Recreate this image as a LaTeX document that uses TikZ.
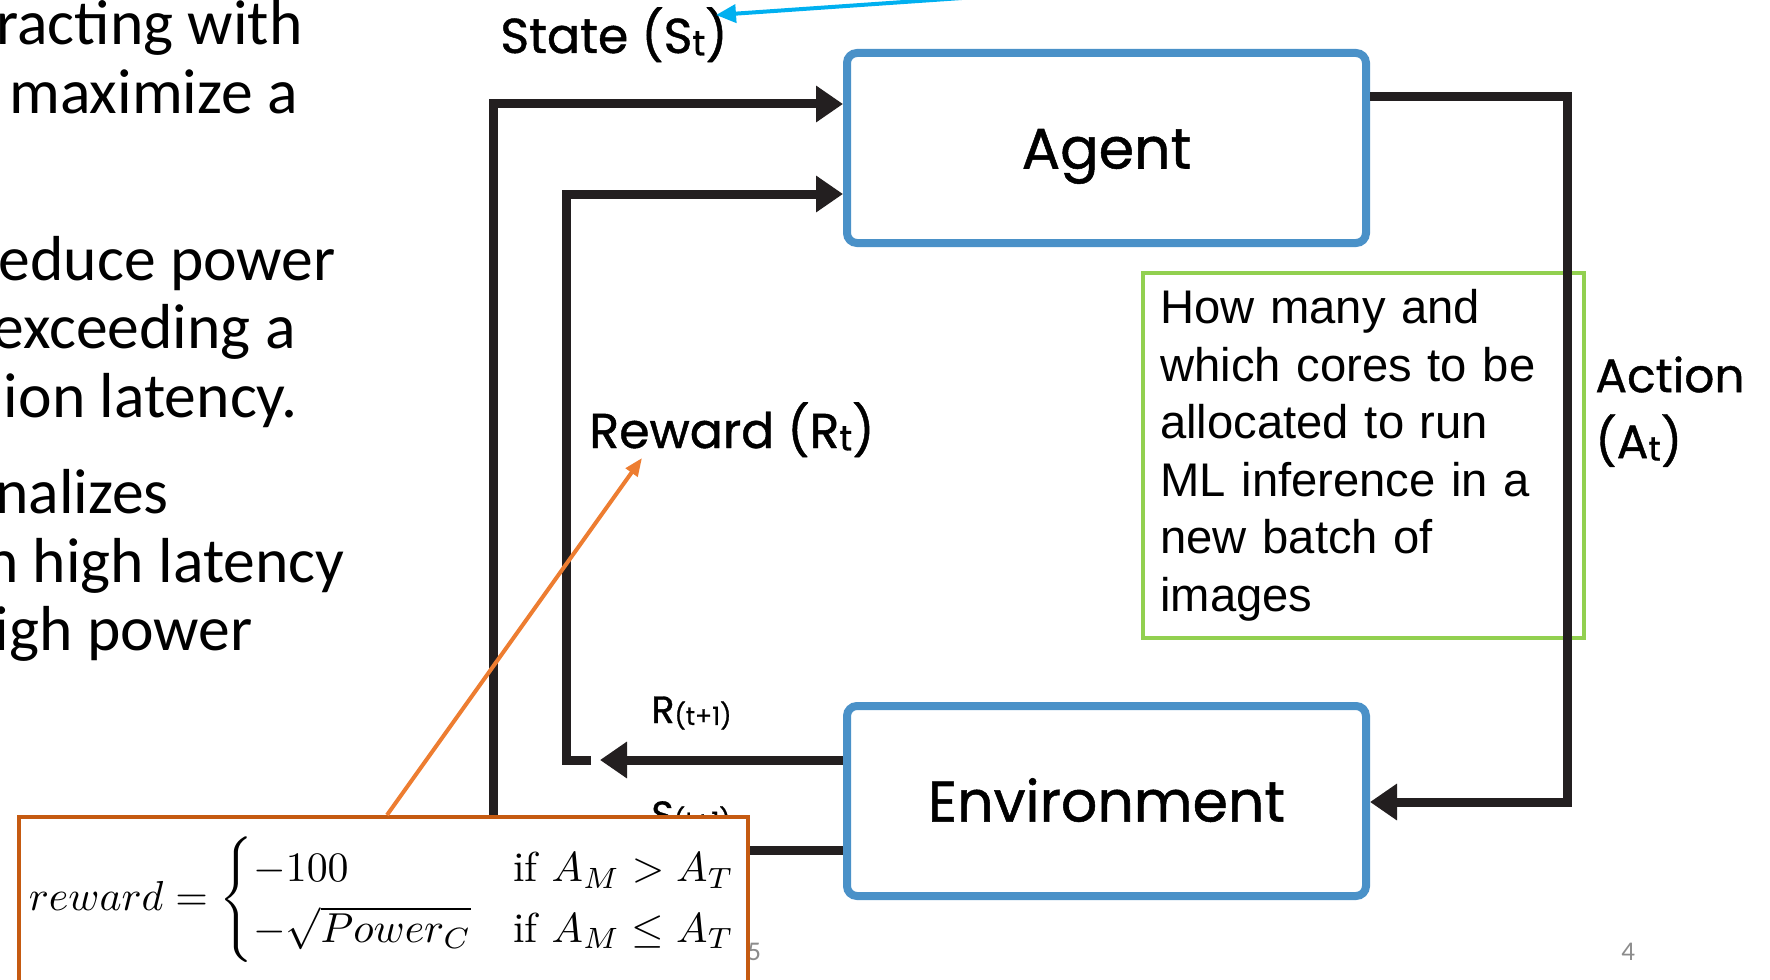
\documentclass[tikz,border=0pt]{standalone}
\usepackage{amsmath}
\usepackage{graphicx}
\usepackage[no-math]{fontspec}
\newfontfamily\bodyfont{Carlito}
\newfontfamily\flowfont[FakeBold=0.9]{Poppins}
\newfontfamily\notefont{Liberation Sans}
\usetikzlibrary{arrows.meta}

\definecolor{linedark}{RGB}{35,31,32}
\definecolor{boxblue}{RGB}{74,145,200}
\definecolor{notegreen}{RGB}{146,208,80}
\definecolor{callorange}{RGB}{237,125,49}
\definecolor{frameorange}{RGB}{197,90,17}
\definecolor{pointerblue}{RGB}{0,176,240}
\definecolor{pagegrey}{RGB}{140,140,140}

% small lowered index used in the loop labels
\newcommand{\lowidx}[2][0.72]{\raisebox{-0.05em}{\scalebox{#1}{#2}}}

\begin{document}
\begin{tikzpicture}[x=0.5pt,y=-0.5pt,
  flowbox/.style={draw=boxblue, line width=4pt, rounded corners=5pt, fill=white,
    minimum width=259.5pt, minimum height=95pt, inner sep=0pt,
    font=\flowfont\fontsize{28.5}{34}\selectfont, text height=20.5pt, text depth=0pt},
  flowline/.style={draw=linedark, line width=4.5pt},
  headtip/.style={-{Triangle[length=13.5pt,width=17.5pt]}},
  flowlabel/.style={inner sep=0pt, text=black},
  bodytext/.style={inner sep=0pt, anchor=base east, font=\bodyfont\fontsize{31.8}{34}\selectfont},
  notebox/.style={draw=notegreen, line width=2pt, inner xsep=8.75pt, inner ysep=0pt,
    minimum width=220.75pt, minimum height=182.5pt, text width=203pt, align=left,
    font=\notefont\fontsize{23.6}{28.75}\selectfont},
  framebox/.style={draw=frameorange, line width=2pt, fill=white,
    minimum width=364.5pt, minimum height=96.5pt, inner sep=0pt},
  callout/.style={draw=callorange, line width=2pt, -{Triangle[length=9pt,width=7pt]}},
  pointer/.style={draw=pointerblue, line width=2pt, -{Triangle[length=10pt,width=9pt]}},
  pagenum/.style={inner sep=0pt, anchor=base west, text=pagegrey, font=\bodyfont\fontsize{13.5}{16}\selectfont}
]
\useasboundingbox (0,0) rectangle (1770,979);
\clip (0,0) rectangle (1770,979);

% side text of the slide
\node[bodytext] (t1) at (303,45) {racting with};
\node[bodytext] (t2) at (298,113) {maximize a};
\node[bodytext] (t3) at (336,280) {educe power};
\node[bodytext] (t4) at (296,348) {exceeding a};
\node[bodytext] (t5) at (298,417) {ion latency.};
\node[bodytext] (t6) at (169,513) {nalizes};
\node[bodytext] (t7) at (345,582) {n high latency};
\node[bodytext] (t8) at (253,650) {igh power};

% note on the action
\node[notebox, anchor=north west] (note) at (1140.5,271)
  {How many and\\which cores to be\\allocated to run\\ML inference in a\\new batch of\\images};

% agent and environment
\node[flowbox] (agent) at (1106.5,148) {Agent};
\node[flowbox] (env) at (1106.5,801) {Environment};

% levels and columns of the loop lines
\coordinate (outerx) at (493,0);
\coordinate (innerx) at (566,0);
\coordinate (actx) at (1567,0);
\coordinate (stateY) at (0,104);
\coordinate (rewardY) at (0,194);
\coordinate (actY) at (0,97);
\coordinate (envinY) at (0,802);
\coordinate (rnextY) at (0,760);
\coordinate (snextY) at (0,850);
\coordinate (rnexttip) at (600,760);
\coordinate (rstub) at (591,760);

\draw[flowline, headtip] (env.west |- snextY) -| (outerx |- stateY) -- (agent.west |- stateY);
\draw[flowline, headtip] (rstub) -| (innerx |- rewardY) -- (agent.west |- rewardY);
\draw[flowline, headtip] (env.west |- rnextY) -- (rnexttip);
\draw[flowline, headtip] (agent.east |- actY) -| (actx |- envinY) -- (env.east |- envinY);

% labels of the loop
\node[flowlabel, anchor=base west, font=\flowfont\fontsize{24.5}{30}\selectfont] (state) at (500,53) {State (S\lowidx{t})};
\node[flowlabel, anchor=base west, font=\flowfont\fontsize{24.5}{30}\selectfont] (reward) at (589,448) {Reward (R\lowidx{t})};
\node[flowlabel, anchor=north west, align=left, font=\flowfont\fontsize{23.5}{33}\selectfont] (action) at (1595,356) {Action\\(A\lowidx{t})};
\node[flowlabel, anchor=base west, font=\flowfont\fontsize{19}{24}\selectfont] (rnext) at (651,723) {R\lowidx[0.66]{(t+1)}};
\node[flowlabel, anchor=base west, font=\flowfont\fontsize{19}{24}\selectfont] (snext) at (651,828) {S\lowidx[0.66]{(t+1)}};

% page numbers
\node[pagenum] (pfive) at (747,960) {5};
\node[pagenum] (pfour) at (1621,960) {4};

% reward definition
\node[framebox] (fbox) at (383.5,913.5) {};
\node[inner sep=0pt] (formula) at (384,900)
  {\resizebox{355pt}{!}{$reward=\begin{cases}-100 & \text{if } A_M > A_T\\ -\sqrt{Power_C} & \text{if } A_M \leq A_T\end{cases}$}};

\coordinate (rewardtip) at (642,458);
\draw[callout] ([xshift=1.75pt]fbox.north) -- (rewardtip);

\coordinate (ptrtail) at (985,-3.6);
\coordinate (ptrtip) at (716,15);
\draw[pointer] (ptrtail) -- (ptrtip);
\end{tikzpicture}
\end{document}
